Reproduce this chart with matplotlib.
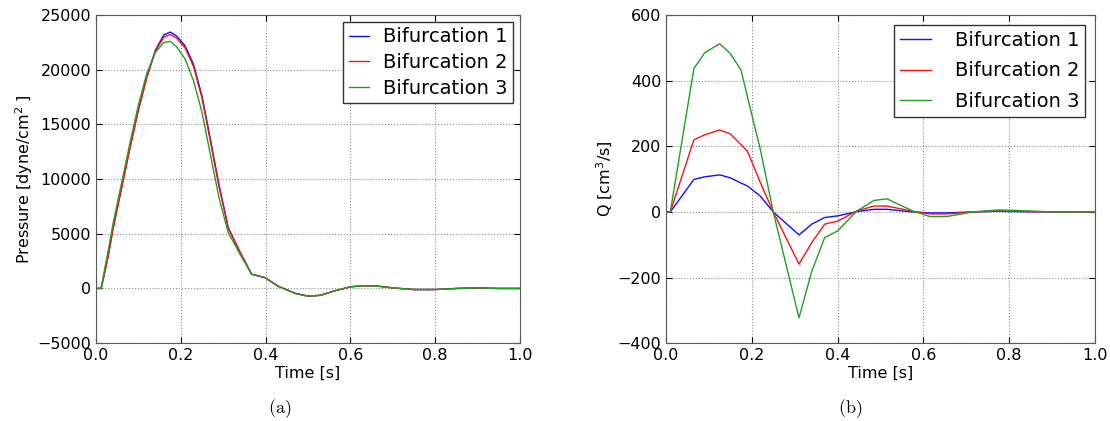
import matplotlib
matplotlib.use("Agg")
import matplotlib.pyplot as plt

# ---- data ----
t_p = [0.0, 0.012, 0.02, 0.03, 0.04, 0.06, 0.08, 0.10, 0.12, 0.14, 0.16, 0.175, 0.19, 0.21,
       0.23, 0.25, 0.27, 0.29, 0.312, 0.34, 0.367, 0.398, 0.43, 0.47, 0.50, 0.53, 0.56, 0.60,
       0.63, 0.66, 0.70, 0.75, 0.80, 0.85, 0.90, 0.95, 1.0]
p_bif1 = [0, 0, 1400, 3300, 5500, 9200, 12900, 16400, 19400, 21800, 23200, 23450, 23100, 22200,
          20500, 17600, 13600, 9500, 5550, 3300, 1300, 1000, 200, -450, -700, -620, -250, 150,
          250, 230, 50, -100, -100, 0, 50, 0, 0]
p_bif2 = [0, 0, 1350, 3200, 5400, 9100, 12800, 16300, 19300, 21700, 23000, 23230, 22900, 22000,
          20300, 17400, 13400, 9300, 5500, 3300, 1300, 1000, 200, -460, -720, -630, -250, 150,
          250, 230, 50, -100, -100, 0, 50, 0, 0]
p_bif3 = [0, 0, 1700, 3700, 5900, 9600, 13300, 16800, 19700, 21600, 22500, 22600, 22100, 21000,
          19000, 16100, 12200, 8300, 5100, 3100, 1300, 1000, 200, -450, -700, -620, -250, 150,
          250, 230, 50, -100, -100, 0, 50, 0, 0]

t_q = [0.0, 0.01, 0.065, 0.09, 0.125, 0.15, 0.175, 0.19, 0.22, 0.25, 0.31, 0.34, 0.37, 0.40,
       0.445, 0.485, 0.515, 0.575, 0.615, 0.655, 0.715, 0.775, 0.81, 0.9, 1.0]
q_bif1 = [0, 0, 99, 107, 113, 104, 88, 79, 48, 0, -70, -37, -17, -12,
          1, 8, 8, 0, -3, -3, 0, 2, 1, 0, 0]
q_bif2 = [0, 0, 220, 235, 250, 238, 205, 185, 89, 0, -159, -93, -37, -28,
          3, 18, 18, 2, -6, -6, 0, 3, 2, 0, 0]
q_bif3 = [0, 0, 437, 485, 513, 483, 432, 350, 190, 0, -323, -180, -78, -58,
          3, 35, 40, 3, -14, -14, 0, 6, 5, 0, 0]

labels = ["Bifurcation 1", "Bifurcation 2", "Bifurcation 3"]
colors = ["#1010ff", "#ff1010", "#20a020"]

plt.rcParams['font.family'] = ['DejaVu Sans']
plt.rcParams['mathtext.fontset'] = 'dejavusans'

fig = plt.figure(figsize=(11.1, 4.21), dpi=100, facecolor='white')
ax1 = fig.add_axes([0.0865, 0.185, 0.382, 0.779])
ax2 = fig.add_axes([0.600, 0.185, 0.3865, 0.779])

for ax in (ax1, ax2):
    ax.tick_params(direction='in', top=True, right=True, labelsize=11.5, length=4)
    ax.grid(True, color='0.55', linestyle=':', linewidth=0.8)
    ax.set_xlim(0, 1.0)
    ax.set_xticks([0.0, 0.2, 0.4, 0.6, 0.8, 1.0])
    ax.set_xticklabels(['0.0', '0.2', '0.4', '0.6', '0.8', '1.0'])
    ax.set_xlabel('Time [s]', fontsize=11.5, labelpad=2)
    for s in ax.spines.values():
        s.set_color('0.35')

for y, lab, c in zip([p_bif1, p_bif2, p_bif3], labels, colors):
    ax1.plot(t_p, y, color=c, lw=1.0, label=lab)
ax1.set_ylim(-5000, 25000)
ax1.set_yticks(range(-5000, 25001, 5000))
ax1.set_ylabel('Pressure [dyne/cm$^2$ ]', fontsize=11.5, labelpad=2)
leg1 = ax1.legend(loc='upper right', fontsize=14, fancybox=False, framealpha=1,
                  edgecolor='0.2', handlelength=1.05, handletextpad=0.72,
                  borderpad=0.28, labelspacing=0.34, borderaxespad=0.35)
leg1.get_frame().set_linewidth(1.0)

for y, lab, c in zip([q_bif1, q_bif2, q_bif3], labels, colors):
    ax2.plot(t_q, y, color=c, lw=1.0, label=lab)
ax2.set_ylim(-400, 600)
ax2.set_yticks(range(-400, 601, 200))
ax2.set_ylabel('Q [cm$^3$/s]', fontsize=11.5, labelpad=2)
leg2 = ax2.legend(loc='upper right', fontsize=14, fancybox=False, framealpha=1,
                  edgecolor='0.2', handlelength=1.6, handletextpad=1.2,
                  borderpad=0.32, labelspacing=0.58, borderaxespad=0.5)
leg2.get_frame().set_linewidth(1.0)

fig.text(0.2523, 0.03, r'$\mathrm{(a)}$', ha='center', va='center', fontsize=13,
         math_fontfamily='cm')
fig.text(0.7658, 0.03, r'$\mathrm{(b)}$', ha='center', va='center', fontsize=13,
         math_fontfamily='cm')

fig.savefig('out.png', dpi=100, facecolor='white')
